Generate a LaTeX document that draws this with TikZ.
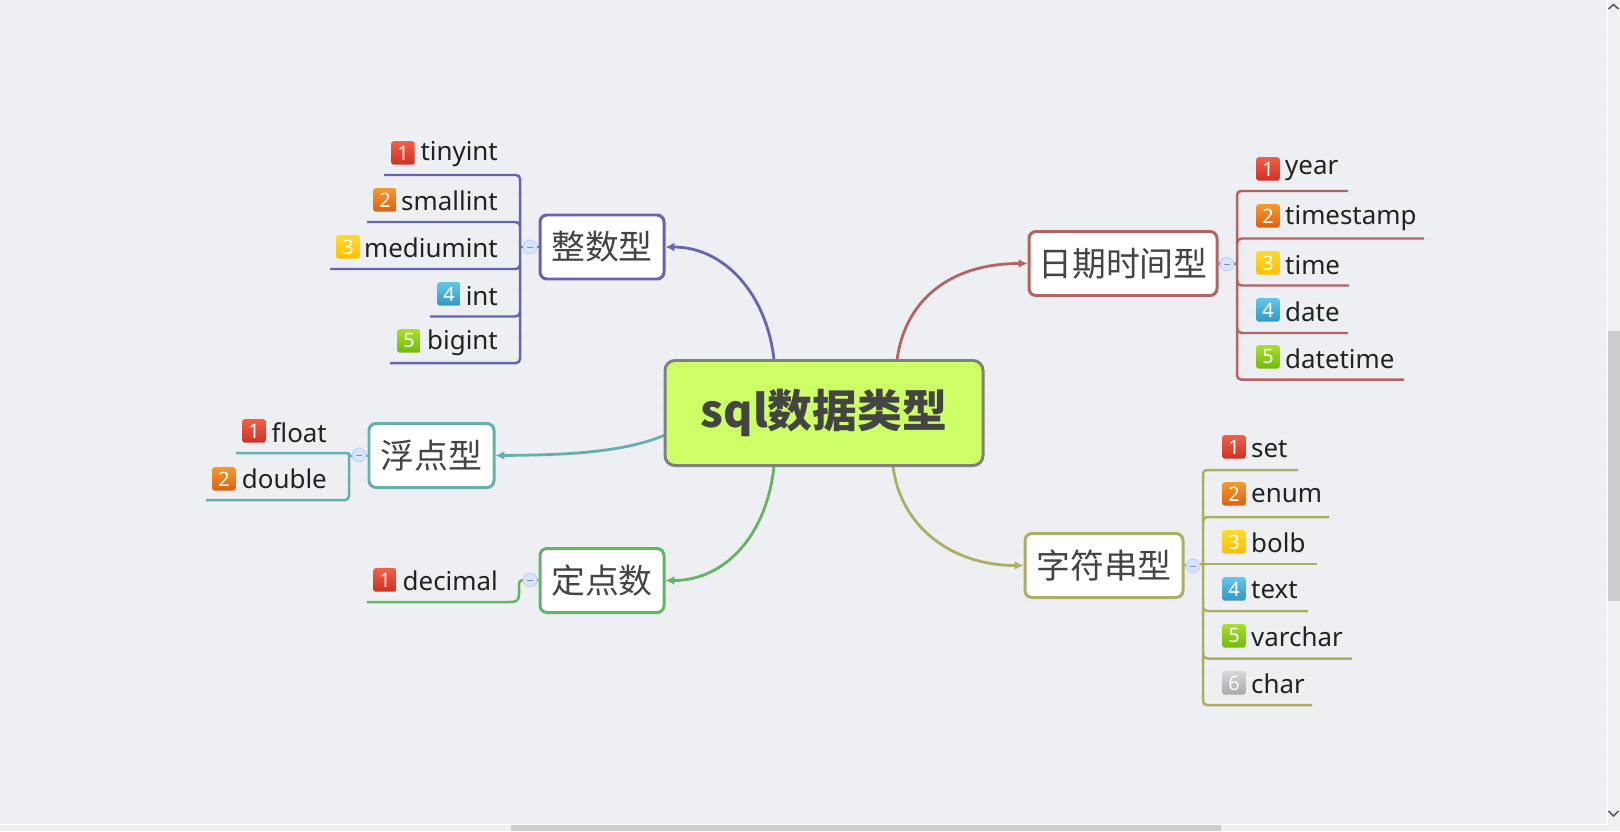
\documentclass[tikz,border=0pt]{standalone}
\usepackage{fontspec}
\setmainfont{Noto Sans}
\newfontfamily\cjk{Noto Sans CJK SC}
\usetikzlibrary{arrows.meta}
\definecolor{canvasbg}{HTML}{EDEEF1}
\definecolor{canvasband}{HTML}{EFF0F3}
\definecolor{winbg}{HTML}{F0F0F0}
\definecolor{thumbc}{HTML}{CDCDCD}
\definecolor{cPurple}{HTML}{6464B4}
\definecolor{cRed}{HTML}{B26464}
\definecolor{cOlive}{HTML}{ADAD64}
\definecolor{cTeal}{HTML}{64B0B0}
\definecolor{cGreen}{HTML}{64B464}
\definecolor{rootfill}{HTML}{CCFF66}
\definecolor{rootedge}{HTML}{808080}
\definecolor{txtc}{HTML}{444444}
\definecolor{leaftxt}{HTML}{222222}
\definecolor{collapsef}{HTML}{D5E3FB}
\definecolor{collapsed}{HTML}{BCD0F5}
\definecolor{iRedT}{HTML}{F0604A}\definecolor{iRedB}{HTML}{D03020}
\definecolor{iOrgT}{HTML}{F49A30}\definecolor{iOrgB}{HTML}{DC6010}
\definecolor{iYelT}{HTML}{FFDA30}\definecolor{iYelB}{HTML}{FFBE00}
\definecolor{iBluT}{HTML}{66C4EA}\definecolor{iBluB}{HTML}{3298C6}
\definecolor{iGrnT}{HTML}{A8DE30}\definecolor{iGrnB}{HTML}{70BC08}
\definecolor{iGryT}{HTML}{D8D8D8}\definecolor{iGryB}{HTML}{A8A8A8}
\tikzset{
  x=1bp,y=-1bp,
  rootnode/.style={draw=rootedge,line width=3pt,fill=rootfill,rounded corners=10pt,
    minimum width=318bp,minimum height=105bp,inner sep=0pt,text=txtc,
    font={\fontsize{45}{50}\selectfont\cjk\bfseries}},
  topic/.style={draw=#1,line width=3pt,fill=white,rounded corners=7pt,
    inner sep=0pt,minimum height=64bp,text=txtc,font={\fontsize{34}{38}\selectfont\cjk}},
  branch/.style={draw=#1,line width=2.8pt,-{Latex[length=9pt,width=9pt]}},
  brk/.style={draw=#1,line width=2.5pt,rounded corners=4pt},
  leafline/.style={draw=#1,line width=2.5pt},
  collapse/.style={circle,draw=collapsed,line width=.8pt,fill=collapsef,minimum size=14bp,inner sep=0pt},
  leafL/.style={anchor=base east,inner sep=0pt,text=leaftxt,font={\fontsize{26}{30}\selectfont}},
  leafR/.style={anchor=base west,inner sep=0pt,text=leaftxt,font={\fontsize{26}{30}\selectfont}},
  iconbox/.style 2 args={rounded corners=2.5pt,top color=#1,bottom color=#2,draw=none,
    minimum width=23.5bp,minimum height=23.5bp,inner sep=0pt,text=white,
    font={\fontsize{20}{20}\selectfont\bfseries},anchor=north west},
}
\newcommand{\numicon}[5]{\node[iconbox={i#5T}{i#5B}] (#1) at (#2,#3) {#4};}
\begin{document}
\begin{tikzpicture}
\useasboundingbox (0,0) rectangle (1620,831);
% window & canvas
\fill[winbg] (0,0) rectangle (1620,831);
\fill[canvasbg] (0,0) rectangle (1606,823);
\foreach \yy in {4,16,...,820}{\fill[canvasband] (0,\yy) rectangle (1606,\yy+5);}
\draw[white,line width=1pt] (0,824) -- (1607,824) -- (1607,0);
\fill[thumbc] (1608,331) rectangle (1620,601);
\fill[thumbc] (511,825) rectangle (1221,831);
\draw[black!65,line width=1.6pt] (1608.5,9) -- (1613.5,4.5) -- (1618.5,9);
\draw[black!65,line width=1.6pt] (1608.5,811) -- (1613.5,816) -- (1618.5,811);

% branches start on the root's edge
\coordinate (sa) at (774,360);
\coordinate (sb) at (897,360);
\coordinate (sc) at (665,435);
\coordinate (sd) at (774,466);
\coordinate (se) at (893,466);

% topics
\node[topic=cPurple,minimum width=124bp] (zs) at (602,247) {整数型};
\node[topic=cRed,minimum width=188bp] (rq) at (1123,263.5) {日期时间型};
\node[topic=cTeal,minimum width=125bp] (fd) at (431.5,455.5) {浮点型};
\node[topic=cGreen,minimum width=124bp] (dd) at (602,580.5) {定点数};
\node[topic=cOlive,minimum width=158bp] (zf) at (1104,565.5) {字符串型};

\draw[branch=cPurple] (sa) .. controls (767,295) and (725,247) .. (zs.east);
\draw[branch=cRed] (sb) .. controls (905,300) and (950,263.5) .. (rq.west);
\draw[branch=cTeal] (sc) .. controls (625,452) and (570,455) .. (fd.east);
\draw[branch=cGreen] (sd) .. controls (767,535) and (725,580.5) .. (dd.east);
\draw[branch=cOlive] (se) .. controls (900,525) and (950,565.5) .. (zf.west);
\node[rootnode] (root) at (824,413) {sql数据类型};

% Integer group
\coordinate (a1) at (384,175);\coordinate (a2) at (367,222);\coordinate (a3) at (330,269);\coordinate (a4) at (430,316.5);\coordinate (a5) at (390,363);
\coordinate (aj) at (520,247);
\draw[brk=cPurple] (a1) -- (520,175) -- (520,363) -- (a5);
\draw[leafline=cPurple] (a2) -- (515,222) .. controls (518,222) and (520,223) .. (520,226);
\draw[leafline=cPurple] (a3) -- (515,269) .. controls (518,269) and (520,268) .. (520,265);
\draw[leafline=cPurple] (a4) -- (515,316.5) .. controls (518,316.5) and (520,315) .. (520,312);
\draw[leafline=cPurple] (aj) -- (zs.west);
\node[leafL] (ta1) at (498,160) {tinyint};
\node[leafL] (ta2) at (498,210) {smallint};
\node[leafL] (ta3) at (498,257) {mediumint};
\node[leafL] (ta4) at (498,305) {int};
\node[leafL] (ta5) at (498,349) {bigint};
\numicon{ia1}{391}{141}{1}{Red}
\numicon{ia2}{373}{188}{2}{Org}
\numicon{ia3}{336}{235}{3}{Yel}
\numicon{ia4}{437}{282}{4}{Blu}
\numicon{ia5}{397}{329}{5}{Grn}

% Date group
\coordinate (b1) at (1348,191);\coordinate (b2) at (1424,238.5);\coordinate (b3) at (1349,285.5);\coordinate (b4) at (1348,333);\coordinate (b5) at (1404,379.5);
\coordinate (bj) at (1237,264);
\draw[brk=cRed] (b1) -- (1237,191) -- (1237,379.5) -- (b5);
\draw[leafline=cRed] (b2) -- (1242,238.5) .. controls (1239,238.5) and (1237,240) .. (1237,243);
\draw[leafline=cRed] (b3) -- (1242,285.5) .. controls (1239,285.5) and (1237,284) .. (1237,281);
\draw[leafline=cRed] (b4) -- (1242,333) .. controls (1239,333) and (1237,331) .. (1237,328);
\draw[leafline=cRed] (bj) -- (rq.east);
\node[leafR] (tb1) at (1285,174) {year};
\node[leafR] (tb2) at (1285,224) {timestamp};
\node[leafR] (tb3) at (1285,274) {time};
\node[leafR] (tb4) at (1285,321) {date};
\node[leafR] (tb5) at (1285,368) {datetime};
\numicon{ib1}{1256}{157}{1}{Red}
\numicon{ib2}{1256}{204}{2}{Org}
\numicon{ib3}{1256}{251}{3}{Yel}
\numicon{ib4}{1256}{298}{4}{Blu}
\numicon{ib5}{1256}{345}{5}{Grn}

% String group
\coordinate (c1) at (1298,470);\coordinate (c2) at (1329,517);\coordinate (c3) at (1317,564);\coordinate (c4) at (1308,611);\coordinate (c5) at (1352,658.5);\coordinate (c6) at (1312,705);
\coordinate (cj) at (1203,564);
\draw[brk=cOlive] (c1) -- (1203,470) -- (1203,705) -- (c6);
\draw[leafline=cOlive] (c2) -- (1208,517) .. controls (1205,517) and (1203,518) .. (1203,521);
\draw[leafline=cOlive] (c3) -- (cj);
\draw[leafline=cOlive] (c4) -- (1208,611) .. controls (1205,611) and (1203,610) .. (1203,607);
\draw[leafline=cOlive] (c5) -- (1208,658.5) .. controls (1205,658.5) and (1203,657) .. (1203,654);
\draw[leafline=cOlive] (cj) -- (zf.east);
\node[leafR] (tc1) at (1251,457) {set};
\node[leafR] (tc2) at (1251,502) {enum};
\node[leafR] (tc3) at (1251,552) {bolb};
\node[leafR] (tc4) at (1251,598) {text};
\node[leafR] (tc5) at (1251,646) {varchar};
\node[leafR] (tc6) at (1251,693) {char};
\numicon{ic1}{1222}{435}{1}{Red}
\numicon{ic2}{1222}{482}{2}{Org}
\numicon{ic3}{1222}{530}{3}{Yel}
\numicon{ic4}{1222}{577}{4}{Blu}
\numicon{ic5}{1222}{624}{5}{Grn}
\numicon{ic6}{1222}{671}{6}{Gry}

% Float group
\coordinate (d1) at (236,453);\coordinate (d2) at (206,500);\coordinate (dj) at (349,456);
\draw[brk=cTeal] (d2) -- (349,500) -- (349,458) .. controls (349,455) and (347,453) .. (344,453) -- (d1);
\draw[leafline=cTeal] (dj) -- (fd.west);
\node[leafL] (td1) at (327,442) {float};
\node[leafL] (td2) at (327,488) {double};
\numicon{id1}{242}{419}{1}{Red}
\numicon{id2}{212}{467}{2}{Org}

% Fixed group
\coordinate (e1) at (367,602);\coordinate (ej) at (522,580);
\draw[leafline=cGreen] (e1) -- (510,602) .. controls (517,602) and (519,600) .. (519,594) -- (519,586) .. controls (519,582) and (520,580) .. (ej);
\draw[leafline=cGreen] (ej) -- (dd.west);
\node[leafL] (te1) at (498,590) {decimal};
\numicon{ie1}{373}{568}{1}{Red}

% collapse markers
\node[collapse] (ca) at (530,247) {};
\node[collapse] (cb) at (1227,264) {};
\node[collapse] (cc) at (1193,566) {};
\node[collapse] (cd) at (359,455) {};
\node[collapse] (ce) at (530,580) {};
\foreach \m in {ca,cb,cc,cd,ce}{\draw[collapsed!70!black,line width=.8pt] ([xshift=-3pt]\m.center) -- ([xshift=3pt]\m.center);}
\end{tikzpicture}
\end{document}
